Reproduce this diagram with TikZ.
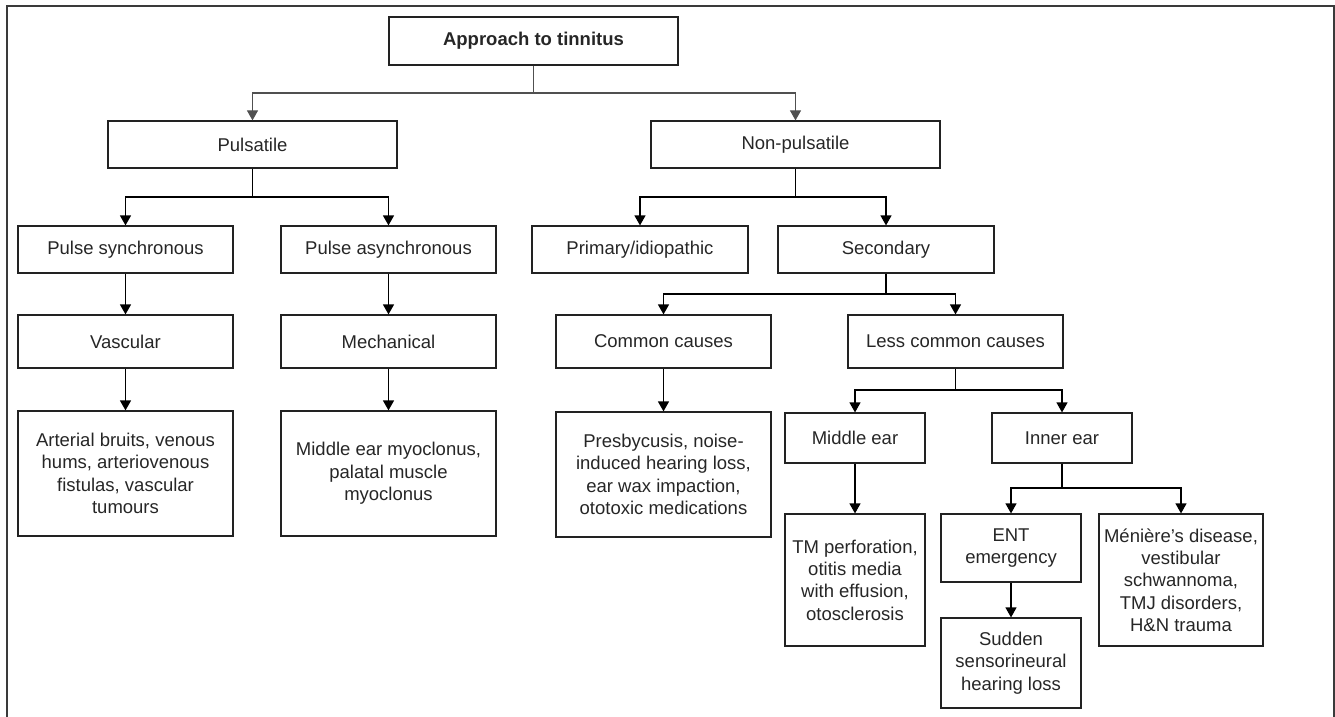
\documentclass[tikz,border=0pt]{standalone}
\usepackage{fontspec}
\setmainfont{Liberation Sans}
\usetikzlibrary{arrows.meta}
\definecolor{boxc}{HTML}{222222}
\definecolor{txtc}{HTML}{262626}
\definecolor{greyc}{HTML}{505050}
\definecolor{framec}{HTML}{3A3A3A}
\tikzset{
  box/.style={draw=boxc, line width=1.2pt, text=txtc, align=center, inner sep=0pt,
    font=\fontsize{18.5}{22.3}\selectfont},
  arr/.style={draw=black, line width=1.3pt, -{Triangle[width=11pt,length=10pt]}},
  toparr/.style={draw=greyc, line width=1.1pt, -{Triangle[width=11pt,length=10pt]}},
}
\begin{document}
\begin{tikzpicture}[x=1pt,y=1pt]
\useasboundingbox (0,0) rectangle (1335,716);
\draw[framec, line width=1.3pt] (7,-2) -- (7,710) -- (1334,710) -- (1334,-2);

\node[box, minimum width=289pt, minimum height=48pt] (title) at (533.5,675) {\textbf{Approach to tinnitus}};
\node[box, minimum width=289pt, minimum height=47pt] (puls) at (252.5,571.5) {Pulsatile};
\node[box, minimum width=289pt, minimum height=47pt] (nonp) at (795.5,571.5) {Non-pulsatile};

\node[box, minimum width=215pt, minimum height=47pt] (psync) at (125.5,466.5) {Pulse synchronous};
\node[box, minimum width=215pt, minimum height=47pt] (pasync) at (388.5,466.5) {Pulse asynchronous};
\node[box, minimum width=216pt, minimum height=47pt] (prim) at (640,466.5) {Primary/idiopathic};
\node[box, minimum width=216pt, minimum height=47pt] (sec) at (886,466.5) {Secondary};

\node[box, minimum width=215pt, minimum height=53pt] (vasc) at (125.5,374.5) {Vascular};
\node[box, minimum width=215pt, minimum height=53pt] (mech) at (388.5,374.5) {Mechanical};
\node[box, minimum width=215pt, minimum height=53pt] (common) at (663.5,374.5) {Common causes};
\node[box, minimum width=215pt, minimum height=53pt] (lesscom) at (955.5,374.5) {Less common causes};

\node[box, minimum width=215pt, minimum height=125pt] (arterial) at (125.5,242.5) {Arterial bruits, venous\\hums, arteriovenous\\fistulas, vascular\\tumours};
\node[box, minimum width=215pt, minimum height=125pt] (myoc) at (388.5,242.5) {Middle ear myoclonus,\\palatal muscle\\myoclonus};
\node[box, minimum width=215pt, minimum height=125pt] (presby) at (663.5,241.5) {Presbycusis, noise-\\induced hearing loss,\\ear wax impaction,\\ototoxic medications};

\node[box, minimum width=140pt, minimum height=50pt] (midear) at (855,278) {Middle ear};
\node[box, minimum width=140pt, minimum height=50pt] (inner) at (1062,278) {Inner ear};
\node[box, minimum width=140pt, minimum height=132pt] (tm) at (855,136) {TM perforation,\\otitis media\\with effusion,\\otosclerosis};
\node[box, minimum width=140pt, minimum height=68pt] (ent) at (1011,168) {ENT\\emergency};
\node[box, minimum width=140pt, minimum height=90pt] (sudden) at (1011,53) {Sudden\\sensorineural\\hearing loss};
\node[box, minimum width=164pt, minimum height=132pt] (men) at (1181,136) {Ménière’s disease,\\vestibular\\schwannoma,\\TMJ disorders,\\H\&N trauma};

% connectors
\draw[toparr] (title.south) -- (title.south |- 0,623) -| (puls.north);
\draw[toparr] (title.south) -- (title.south |- 0,623) -| (nonp.north);

\draw[arr] (puls.south) -- (puls.south |- 0,519) -| (psync.north);
\draw[arr] (puls.south) -- (puls.south |- 0,519) -| (pasync.north);
\draw[arr] (nonp.south) -- (nonp.south |- 0,519) -| (prim.north);
\draw[arr] (nonp.south) -- (nonp.south |- 0,519) -| (sec.north);

\draw[arr] (psync) -- (vasc);
\draw[arr] (pasync) -- (mech);
\draw[arr] (vasc) -- (arterial);
\draw[arr] (mech) -- (myoc);

\draw[arr] (sec.south) -- (sec.south |- 0,422) -| (common.north);
\draw[arr] (sec.south) -- (sec.south |- 0,422) -| (lesscom.north);
\draw[arr] (common) -- (presby);

\draw[arr] (lesscom.south) -- (lesscom.south |- 0,326) -| (midear.north);
\draw[arr] (lesscom.south) -- (lesscom.south |- 0,326) -| (inner.north);
\draw[arr] (midear) -- (tm);

\draw[arr] (inner.south) -- (inner.south |- 0,228) -| (ent.north);
\draw[arr] (inner.south) -- (inner.south |- 0,228) -| (men.north);
\draw[arr] (ent) -- (sudden);
\end{tikzpicture}
\end{document}
